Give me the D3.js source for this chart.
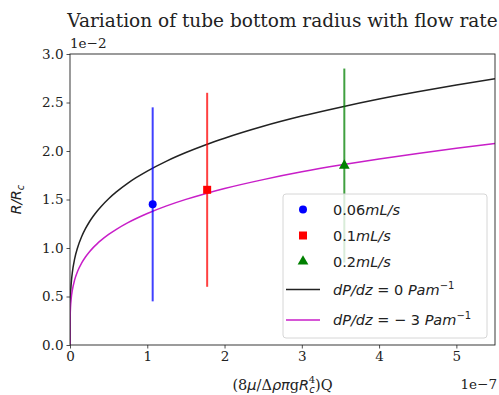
<!DOCTYPE html>
<html>
<head>
<meta charset="utf-8">
<script src="https://cdn.jsdelivr.net/npm/d3@7"></script>
<style>
	body { margin: 0; background: #fff; }
	svg text { fill: #222; }
	.tick text { font-family: "DejaVu Serif", serif; font-size: 13.5px; }
</style>
</head>
<body>
<div id="chart"></div>
<script>
// x in units of 1e-7, y in units of 1e-2
var xTicks = [0, 1, 2, 3, 4, 5];
var yTicks = [0.0, 0.5, 1.0, 1.5, 2.0, 2.5, 3.0];

// measured points with error bars (±)
var flowLabels = ["0.06", "0.1", "0.2"];
var flowX = [1.07, 1.775, 3.55];
var flowY = [1.45, 1.60, 1.85];
var flowErr = [1.0, 1.0, 1.0];
var flowColors = ["#0000ff", "#ff0000", "#008000"];
var flowShapes = ["circle", "square", "triangle"];

// curves
var curveX = [0, 0.0001, 0.0005, 0.002, 0.005, 0.01, 0.02, 0.03, 0.06, 0.1, 0.15, 0.2, 0.25, 0.3, 0.35, 0.4, 0.5, 0.6, 0.75, 0.85, 1.0, 1.25, 1.5, 1.75, 2.0, 2.5, 3.0, 3.5, 4.0, 4.5, 5.0, 5.5];
var curveZero = [0, 0.179, 0.268, 0.379, 0.477, 0.567, 0.674, 0.746, 0.887, 1.008, 1.116, 1.199, 1.268, 1.327, 1.379, 1.426, 1.508, 1.578, 1.669, 1.722, 1.793, 1.896, 1.984, 2.062, 2.132, 2.255, 2.360, 2.452, 2.536, 2.611, 2.681, 2.746];
var curveMinus3 = [0, 0.136, 0.203, 0.287, 0.361, 0.429, 0.510, 0.564, 0.671, 0.763, 0.844, 0.907, 0.959, 1.004, 1.043, 1.078, 1.140, 1.193, 1.262, 1.302, 1.356, 1.434, 1.501, 1.560, 1.613, 1.705, 1.785, 1.855, 1.918, 1.975, 2.028, 2.077];

var W = 499, H = 395;
var margin = {left: 70, right: 4, top: 54, bottom: 50};

var svg = d3.select("#chart").append("svg")
	.attr("width", W)
	.attr("height", H);

var x = d3.scaleLinear().domain([0, 5.5]).range([margin.left, W - margin.right]);
var y = d3.scaleLinear().domain([0, 3.0]).range([H - margin.bottom, margin.top]);

svg.append("defs").append("clipPath").attr("id", "plotclip")
	.append("rect")
	.attr("x", margin.left).attr("y", margin.top)
	.attr("width", x(5.5) - x(0)).attr("height", y(0) - y(3));

var plot = svg.append("g").attr("clip-path", "url(#plotclip)");

var line = d3.line()
	.x(function(d) { return x(d[0]); })
	.y(function(d) { return y(d[1]); })
	.curve(d3.curveMonotoneX);

var curves = [
	{vals: curveZero, color: "#222222", label: "dP/dz = 0"},
	{vals: curveMinus3, color: "#c81ec8", label: "dP/dz = \u2212 3"}
];

curves.forEach(function(c) {
	plot.append("path")
		.datum(curveX.map(function(v, i) { return [v, c.vals[i]]; }))
		.attr("fill", "none")
		.attr("stroke", c.color)
		.attr("stroke-width", 1.5)
		.attr("d", line);
});

var symbolFor = {
	circle: d3.symbol().type(d3.symbolCircle).size(50),
	square: d3.symbol().type(d3.symbolSquare).size(64),
	triangle: d3.symbol().type(d3.symbolTriangle).size(50)
};

// error bars
flowX.forEach(function(v, i) {
	plot.append("line")
		.attr("x1", x(v)).attr("x2", x(v))
		.attr("y1", y(flowY[i] - flowErr[i]))
		.attr("y2", y(flowY[i] + flowErr[i]))
		.attr("stroke", flowColors[i])
		.attr("stroke-opacity", 0.75)
		.attr("stroke-width", 2);
	plot.append("path")
		.attr("d", symbolFor[flowShapes[i]]())
		.attr("transform", "translate(" + x(v) + "," + y(flowY[i]) + ")")
		.attr("fill", flowColors[i]);
});

// axes
svg.append("g")
	.attr("transform", "translate(0," + y(0) + ")")
	.call(d3.axisBottom(x).tickValues(xTicks).tickFormat(d3.format("d")).tickSizeOuter(0).tickSize(3.5).tickPadding(3));
svg.append("g")
	.attr("transform", "translate(" + margin.left + ",0)")
	.call(d3.axisLeft(y).tickValues(yTicks).tickFormat(d3.format(".1f")).tickSizeOuter(0).tickSize(3.5).tickPadding(3));
svg.selectAll(".domain").remove();
svg.selectAll(".tick line").attr("stroke", "#222").attr("stroke-width", 0.8);

// frame
svg.append("rect")
	.attr("x", x(0)).attr("y", y(3))
	.attr("width", x(5.5) - x(0)).attr("height", y(0) - y(3))
	.attr("fill", "none")
	.attr("stroke", "#222")
	.attr("stroke-width", 0.9);

// offset texts
svg.append("text")
	.attr("x", margin.left).attr("y", 48)
	.style("font-family", "DejaVu Serif, serif").style("font-size", "13.5px")
	.text("1e\u22122");
svg.append("text")
	.attr("x", W - 2).attr("y", 389).attr("text-anchor", "end")
	.style("font-family", "DejaVu Serif, serif").style("font-size", "13.5px")
	.text("1e\u22127");

// title
svg.append("text")
	.attr("x", (x(0) + x(5.5)) / 2).attr("y", 27)
	.attr("text-anchor", "middle")
	.style("font-family", "DejaVu Serif, serif").style("font-size", "18.5px")
	.text("Variation of tube bottom radius with flow rate");

// x label
var xl = svg.append("text")
	.attr("x", (x(0) + x(5.5)) / 2).attr("y", 390)
	.attr("text-anchor", "middle")
	.style("font-family", "DejaVu Serif, serif").style("font-size", "14.5px");
xl.append("tspan").text("(8");
xl.append("tspan").style("font-family", "DejaVu Sans, sans-serif").style("font-style", "italic").text("\u03bc");
xl.append("tspan").text("/\u0394");
xl.append("tspan").style("font-family", "DejaVu Sans, sans-serif").style("font-style", "italic").text("\u03c1\u03c0");
xl.append("tspan").text("g");
xl.append("tspan").style("font-family", "DejaVu Sans, sans-serif").style("font-style", "italic").text("R");
xl.append("tspan").attr("dy", 3).style("font-size", "10px").style("font-family", "DejaVu Sans, sans-serif").style("font-style", "italic").text("c");
xl.append("tspan").attr("dx", -6).attr("dy", -10).style("font-size", "10px").text("4");
xl.append("tspan").attr("dy", 7).text(")Q");

// y label
var yl = svg.append("text")
	.attr("transform", "translate(21," + ((y(0) + y(3)) / 2) + ") rotate(-90)")
	.attr("text-anchor", "middle")
	.style("font-family", "DejaVu Sans, sans-serif").style("font-size", "14px").style("font-style", "italic");
yl.append("tspan").text("R/R");
yl.append("tspan").attr("dy", 3).style("font-size", "10px").text("c");

// legend
var lg = svg.append("g");
lg.append("rect")
	.attr("x", 283).attr("y", 194)
	.attr("width", 204).attr("height", 144)
	.attr("rx", 3)
	.attr("fill", "#fff").attr("fill-opacity", 0.8)
	.attr("stroke", "#d6d6d6").attr("stroke-width", 1);

var rowY = [209.5, 235.5, 261.5, 289.5, 320];
var handleX = 303, labelX = 333;
var sansText = function(t) { return t.style("font-family", "DejaVu Sans, sans-serif").style("font-size", "14.5px"); };

flowLabels.forEach(function(lbl, i) {
	lg.append("path")
		.attr("d", symbolFor[flowShapes[i]]())
		.attr("transform", "translate(" + handleX + "," + rowY[i] + ")")
		.attr("fill", flowColors[i]);
	var t = sansText(lg.append("text").attr("x", labelX).attr("y", rowY[i] + 5));
	t.append("tspan").text(lbl);
	t.append("tspan").style("font-style", "italic").text("mL/s");
});

curves.forEach(function(c, j) {
	var ry = rowY[3 + j];
	lg.append("line")
		.attr("x1", handleX - 17).attr("x2", handleX + 17)
		.attr("y1", ry).attr("y2", ry)
		.attr("stroke", c.color).attr("stroke-width", 1.5);
	var t = sansText(lg.append("text").attr("x", labelX).attr("y", ry + 5)).style("font-style", "italic");
	var parts = c.label.split(" = ");
	t.append("tspan").text(parts[0]);
	t.append("tspan").style("font-style", "normal").text(" = ");
	t.append("tspan").style("font-style", "normal").text(parts[1] + " ");
	t.append("tspan").text("Pam");
	t.append("tspan").attr("dy", -6).style("font-size", "10px").style("font-style", "normal").text("\u22121");
});
</script>
</body>
</html>
